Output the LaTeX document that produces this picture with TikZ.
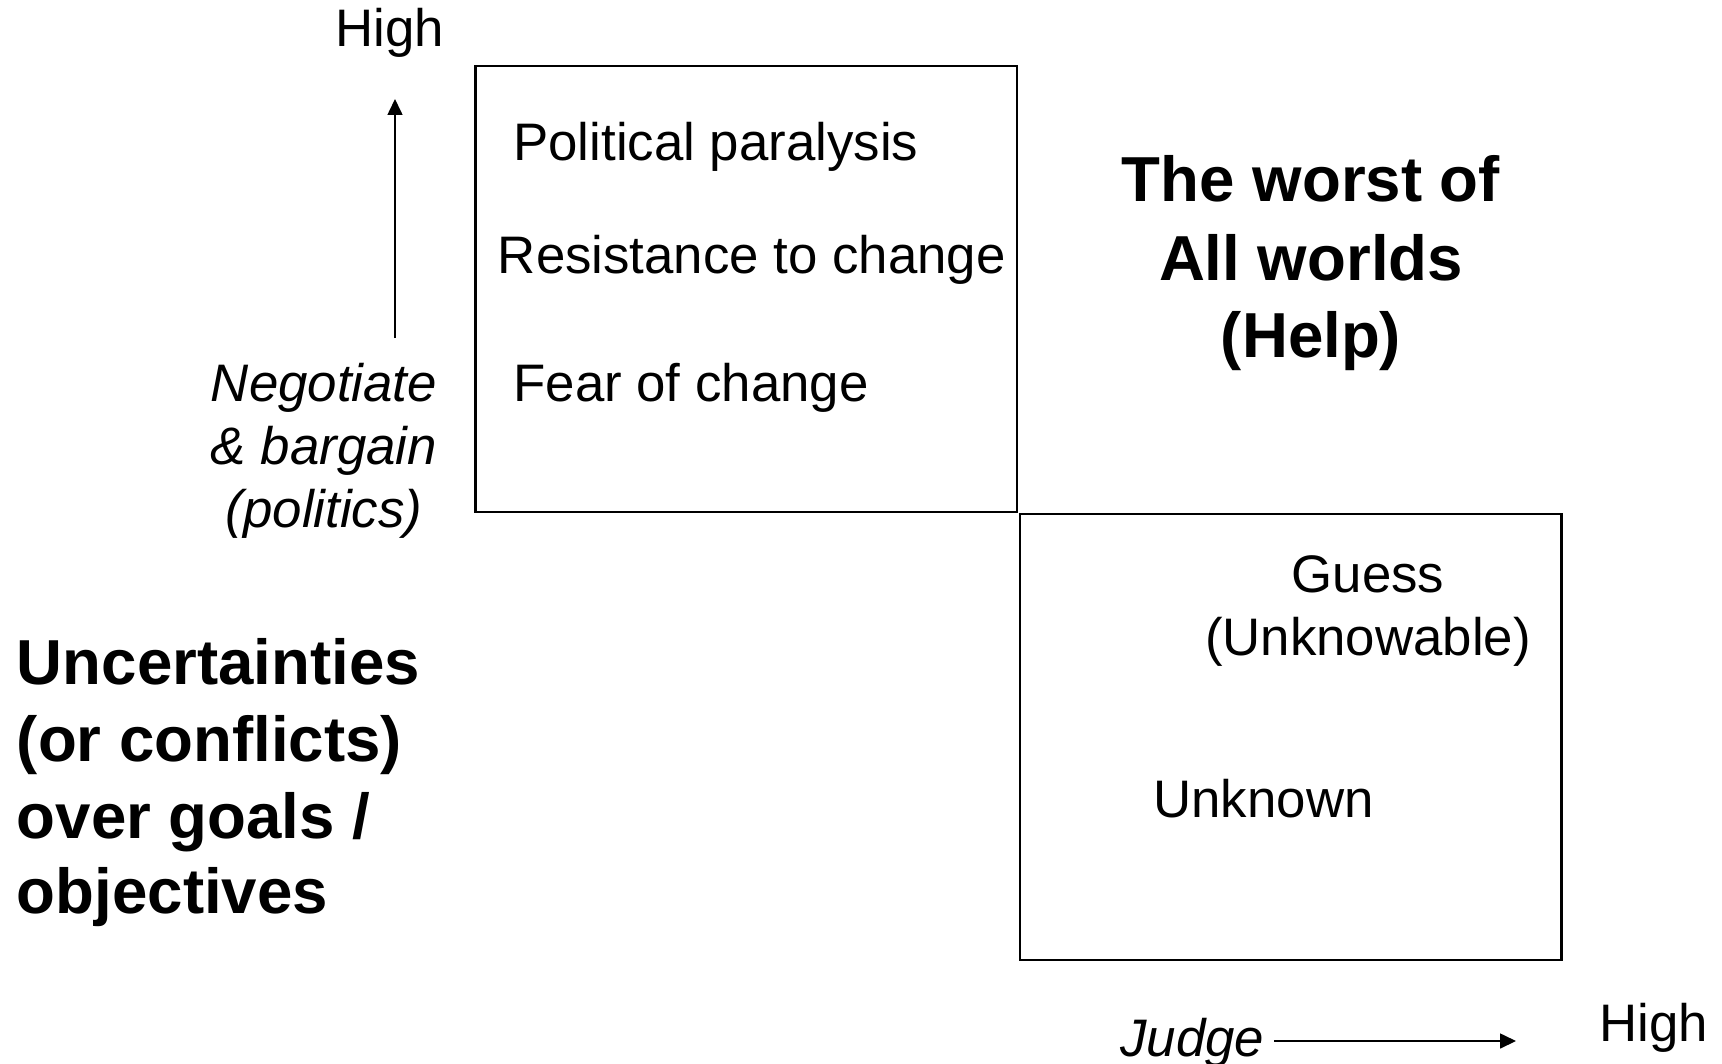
\documentclass[tikz,border=0pt]{standalone}
\usepackage{fontspec}
\setmainfont{Liberation Sans}
\usetikzlibrary{arrows.meta}
\begin{document}
\begin{tikzpicture}[x=0.5pt,y=-0.5pt,
  reg/.style={inner sep=0pt, font=\fontsize{26.4}{31.5}\selectfont},
  ital/.style={inner sep=0pt, font=\fontsize{26.4}{31.5}\itshape\selectfont},
  bld/.style={inner sep=0pt, font=\fontsize{31.8}{38.5}\bfseries\selectfont},
  box/.style={draw, line width=1.2pt},
  axisarrow/.style={line width=0.8pt, -{Triangle[length=8pt,width=7.5pt]}}]
\useasboundingbox (0,0) rectangle (1722,1064);

% boxes
\draw[box] (475.5,66) coordinate (b1tl) rectangle (1017,512) coordinate (b1br);
\draw[box] (1020,514) coordinate (b2tl) rectangle (1561.6,960) coordinate (b2br);

% vertical axis
\node[reg, anchor=base] (hightop) at (390,47) {High};
\coordinate (vstart) at (395,338);
\coordinate (vend) at (395,99);
\draw[axisarrow] (vstart) -- (vend);

% horizontal axis
\node[ital, anchor=base west] (judge) at (1120,1056) {Judge};
\node[reg, anchor=base] (highright) at (1654,1041) {High};
\coordinate (hstart) at (1274,1041);
\coordinate (hend) at (1516,1041);
\draw[axisarrow] (hstart) -- (hend);

% box 1 texts
\node[reg, anchor=base west] (pp) at (513,161) {Political paralysis};
\node[reg, anchor=base west] (rc) at (497.5,273) {Resistance to change};
\node[reg, anchor=base west] (fc) at (513,401) {Fear of change};

% worst of all worlds
\node[bld, anchor=base] (w1) at (1311,202) {The worst of};
\node[bld, anchor=base] (w2) at (1311,280) {All worlds};
\node[bld, anchor=base] (w3) at (1311,357) {(Help)};

% negotiate
\node[ital, anchor=base] (n1) at (324,401) {Negotiate};
\node[ital, anchor=base] (n2) at (324,464.5) {\& bargain};
\node[ital, anchor=base] (n3) at (324,527) {(politics)};

% uncertainties
\node[bld, anchor=base west] (u1) at (16.5,684) {Uncertainties};
\node[bld, anchor=base west] (u2) at (16.5,761) {(or conflicts)};
\node[bld, anchor=base west] (u3) at (16.5,838) {over goals /};
\node[bld, anchor=base west] (u4) at (16.5,913) {objectives};

% box 2 texts
\node[reg, anchor=base] (g1) at (1368,592) {Guess};
\node[reg, anchor=base] (g2) at (1368,655.5) {(Unknowable)};
\node[reg, anchor=base west] (uk) at (1153,817) {Unknown};
\end{tikzpicture}
\end{document}
